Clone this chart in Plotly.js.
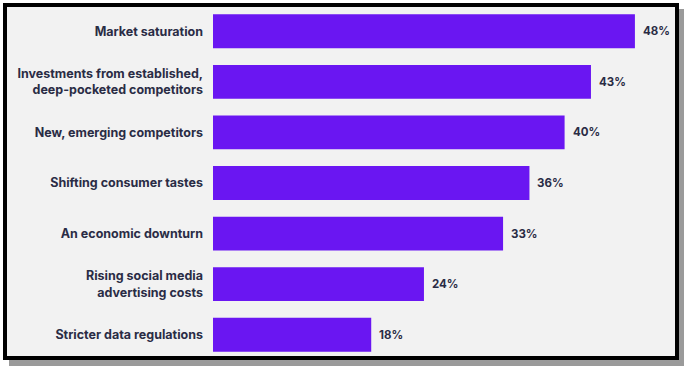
<!DOCTYPE html>
<html>
<head>
<meta charset="utf-8">
<script src="https://cdn.plot.ly/plotly-3.0.1.min.js"></script>
<style>
  html, body { margin: 0; padding: 0; background: #ffffff; }
  #chart { width: 692px; height: 374px; }
</style>
</head>
<body>
<div id="chart"></div>
<script>
const categories = [
  "Market saturation",
  "Investments from established,<br>deep-pocketed competitors",
  "New, emerging competitors",
  "Shifting consumer tastes",
  "An economic downturn",
  "Rising social media<br>advertising costs",
  "Stricter data regulations"
];
const values = [48, 43, 40, 36, 33, 24, 18];
const valueLabels = ["48%", "43%", "40%", "36%", "33%", "24%", "18%"];

const W = 692, H = 374;
const M = { l: 213, r: 15, t: 6, b: 14 };
const plotW = W - M.l - M.r, plotH = H - M.t - M.b;
const px = x => (x - M.l) / plotW;
const py = y => (H - M.b - y) / plotH;

const textColor = "#2a2c45";
const fontFam = "Inter, 'Open Sans', sans-serif";

const trace = {
  type: "bar",
  orientation: "h",
  y: categories,
  x: values,
  marker: { color: "#6a16f2" },
  width: 0.67,
  hoverinfo: "skip"
};

const annotations = values.map((v, i) => ({
  x: v, y: categories[i], xref: "x", yref: "y",
  text: valueLabels[i], showarrow: false,
  xanchor: "left", yanchor: "middle", xshift: 6,
  font: { family: fontFam, size: 11.5, color: textColor, weight: 700 }
}));

const shapes = [
  { type: "rect", xref: "paper", yref: "paper", layer: "below",
    x0: px(9), x1: px(684), y0: py(9), y1: py(366),
    fillcolor: "#9a9a9a", line: { width: 0 } },
  { type: "rect", xref: "paper", yref: "paper", layer: "below",
    x0: px(5), x1: px(677), y0: py(5), y1: py(358),
    fillcolor: "#f2f2f2", line: { color: "#000000", width: 4 } }
];

const layout = {
  width: W, height: H,
  margin: M,
  paper_bgcolor: "#ffffff",
  plot_bgcolor: "rgba(0,0,0,0)",
  showlegend: false,
  xaxis: { range: [0, plotW / 8.79], visible: false, fixedrange: true },
  yaxis: {
    autorange: false, range: [6.5, -0.5],
    showgrid: false, zeroline: false, showline: false, ticks: "",
    ticklabelstandoff: 9,
    tickfont: { family: fontFam, size: 12.5, color: textColor, weight: 700 }
  },
  shapes: shapes,
  annotations: annotations
};

Plotly.newPlot("chart", [trace], layout, { displayModeBar: false, staticPlot: true });
</script>
</body>
</html>
